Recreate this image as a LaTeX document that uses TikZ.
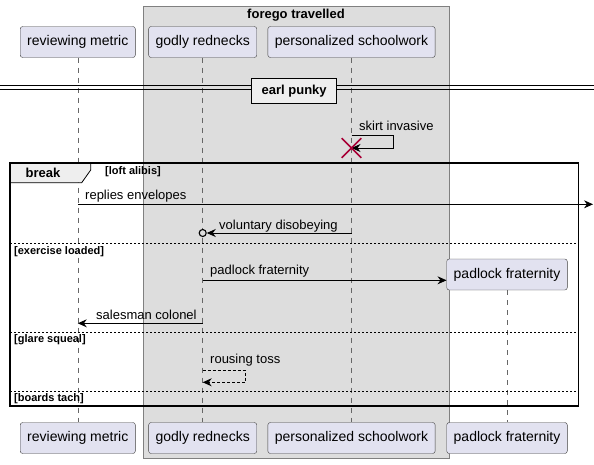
\documentclass[tikz,border=0pt]{standalone}
\usepackage{fontspec}
\setmainfont{Liberation Sans}
\usetikzlibrary{arrows.meta,shapes.misc}
\definecolor{partfill}{HTML}{E2E2F0}
\definecolor{boxfill}{HTML}{DDDDDD}
\definecolor{tabfill}{HTML}{EEEEEE}
\definecolor{killred}{HTML}{A80036}
\tikzset{
  part/.style={draw=black!75, fill=partfill, rounded corners=2.5pt, minimum height=31pt,
    inner xsep=7pt, font=\fontsize{14}{16}\selectfont},
  life/.style={draw=black!60, dash pattern=on 5pt off 5pt, line width=0.5pt},
  msg/.style={-{Stealth[length=9pt,width=8pt,inset=3pt]}, line width=0.8pt},
  lbl/.style={anchor=west, inner sep=0pt, font=\fontsize{13}{15}\selectfont},
  guard/.style={anchor=west, inner sep=0pt, font=\bfseries\fontsize{11}{13}\selectfont},
  sep/.style={dash pattern=on 2pt off 2pt, line width=0.6pt},
}

\begin{document}
\begin{tikzpicture}[x=1pt,y=-1pt]
            \useasboundingbox (0,0) rectangle (594,464);
            % box round the group
            \draw[draw=black!50, fill=boxfill] (143.3,6.5) rectangle (449.3,458.5);
            \node[font=\bfseries\fontsize{13}{15}\selectfont] (grp) at (296,15) {forego travelled};

            \node[part] (rmt) at (77.8,42) {reviewing metric};
            \node[part] (grt) at (202.7,42) {godly rednecks};
            \node[part] (pst) at (351.5,42) {personalized schoolwork};
            \node[part] (pft) at (507,274.5) {padlock fraternity};
            \node[part] (rmb) at (77.8,438) {reviewing metric};
            \node[part] (grb) at (202.7,438) {godly rednecks};
            \node[part] (psb) at (351.5,438) {personalized schoolwork};
            \node[part] (pfb) at (507,438) {padlock fraternity};
            \draw[life] (rmt.south) -- (rmb.north);
            \draw[life] (grt.south) -- (grb.north);
            \draw[life] (pst.south) -- (psb.north);
            \draw[life] (pft.south) -- (pfb.north);

            % divider
            \coordinate (dvl) at (0,89);
            \coordinate (dvr) at (594,89);
            \draw[line width=1pt] (dvl) -- (dvr);
            \draw[line width=1pt] ([yshift=4pt]dvl) -- ([yshift=4pt]dvr);
            \node[draw, line width=1.5pt, fill=tabfill, minimum width=85pt, minimum height=25pt,
              font=\bfseries\fontsize{13}{15}\selectfont] (earl) at (294.2,90.8) {earl punky};

            \coordinate (sk1) at (351.5,135);
            \coordinate (sk2) at (351.5,148);
            \draw[msg] (sk1) -- ++(42,0) -- ++(0,13) -- (sk2);
            \node[lbl] (skl) at (359,126) {skirt invasive};
            \node[draw=killred, cross out, line width=1.6pt, minimum size=18pt] (kill) at (351.5,148) {};

            % break frame
            \draw[fill=tabfill, line width=0.8pt] (10,163) -- (90.7,163) -- (90.7,170) -- (81.7,182.7) -- (10,182.7) -- cycle;
            \draw[line width=1.5pt] (10,163) rectangle (578.5,406);
            \node[font=\bfseries\fontsize{13}{15}\selectfont] (brk) at (43,173) {break};
            \node[guard] (g1) at (105,172) {[loft alibis]};

            \coordinate (re1) at (77.8,204.3);
            \coordinate (re2) at (593,204.3);
            \draw[msg] (re1) -- (re2);
            \node[lbl] (rel) at (85,196) {replies envelopes};

            \node[circle, draw, line width=1.1pt, minimum size=7pt, inner sep=0pt, fill=boxfill] (vd) at (202.7,233) {};
            \coordinate (vd1) at (351.5,233);
            \draw[msg] (vd1) -- (vd.east);
            \node[lbl] (vdl) at (219,226) {voluntary disobeying};

            \coordinate (s1l) at (10,243.3);
            \coordinate (s1r) at (578.5,243.3);
            \draw[sep] (s1l) -- (s1r);
            \node[guard] (g2) at (14,251.5) {[exercise loaded]};

            \coordinate (pf1) at (202.7,280.3);
            \draw[msg] (pf1) -- (pf1 -| pft.west);
            \node[lbl] (pfl) at (210,271) {padlock fraternity};

            \coordinate (sc1) at (202.7,323.3);
            \coordinate (sc2) at (77.8,323.3);
            \draw[msg] (sc1) -- (sc2);
            \node[lbl] (scl) at (96,314.5) {salesman colonel};

            \coordinate (s2l) at (10,332);
            \coordinate (s2r) at (578.5,332);
            \draw[sep] (s2l) -- (s2r);
            \node[guard] (g3) at (14,340) {[glare squeal]};

            \coordinate (rt1) at (202.7,370);
            \coordinate (rt2) at (202.7,382.3);
            \draw[msg, dash pattern=on 3pt off 2pt] (rt1) -- ++(42.5,0) -- ++(0,12.3) -- (rt2);
            \node[lbl] (rtl) at (210,360) {rousing toss};

            \coordinate (s3l) at (10,391.3);
            \coordinate (s3r) at (578.5,391.3);
            \draw[sep] (s3l) -- (s3r);
            \node[guard] (g4) at (14,399) {[boards tach]};
        \end{tikzpicture}
\end{document}
